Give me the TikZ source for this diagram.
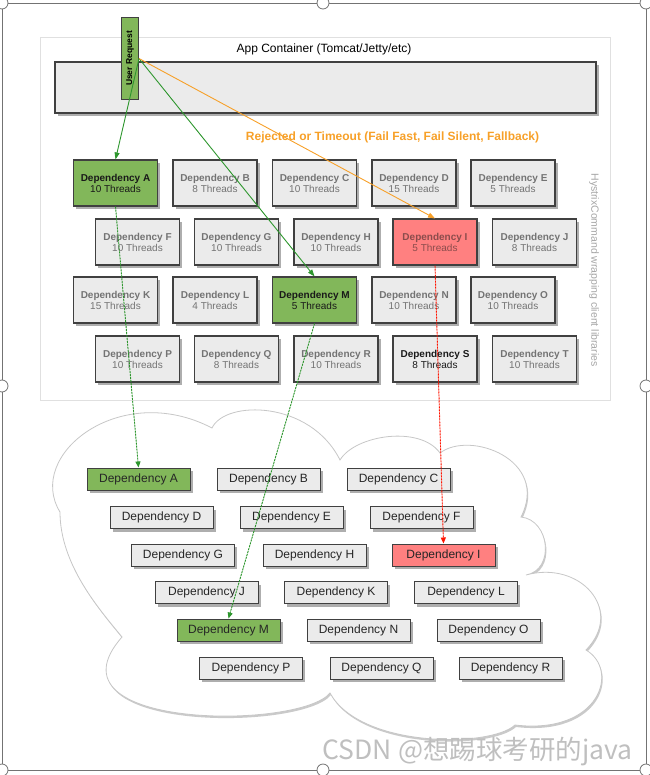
\documentclass[tikz,border=0pt]{standalone}
\usepackage{fontspec}
\setmainfont{Liberation Sans}
\newfontfamily\cjkfont{Noto Sans CJK SC}
\usetikzlibrary{shadows,arrows.meta}

\colorlet{pool fill}{black!8}
\colorlet{frame edge}{black!55}
\definecolor{ok green}{RGB}{130,183,90}
\definecolor{fail red}{RGB}{255,128,128}
\definecolor{call green}{RGB}{45,150,45}
\definecolor{reject orange}{RGB}{247,160,40}
\tikzset{
  soft shadow/.style={drop shadow={shadow xshift=2.5pt, shadow yshift=-3pt, fill=black!70, opacity=.45}},
  frame/.style={draw=frame edge, line width=.8pt},
  handle/.style={draw=frame edge, fill=white, line width=.8pt}
  }
\tikzstyle{pool} = [draw=black!75, line width=1.1pt, fill=pool fill, minimum width=84pt, minimum height=46pt, inner sep=0pt, align=center, font=\fontsize{10}{11}\selectfont, text=black!55, soft shadow]
\tikzstyle{pool ok} = [pool, fill=ok green, text=black!90]
\tikzstyle{pool failed} = [pool, fill=fail red, text=red!35!black!70]
\tikzstyle{pool loud} = [pool, text=black!90]
\tikzstyle{lib} = [draw=black!75, line width=1pt, fill=pool fill, minimum width=103pt, minimum height=22pt, inner sep=0pt, font=\fontsize{12}{12}\selectfont, text=black!85, soft shadow]
\tikzstyle{lib ok} = [lib, fill=ok green]
\tikzstyle{lib failed} = [lib, fill=fail red]
\tikzstyle{call} = [draw=call green, line width=.9pt, -{Triangle[length=7pt,width=5pt]}]
\tikzstyle{reject} = [draw=reject orange, line width=.9pt, -{Triangle[length=7pt,width=5pt]}]
\tikzstyle{wired} = [line width=.9pt, dash pattern=on 2pt off 1pt, -{Triangle[length=6pt,width=5pt]}]
\def\pools{{(115.5,183)/A/10/pool ok}, {(215,183)/B/8/pool}, {(314.5,183)/C/10/pool}, {(414,183)/D/15/pool}, {(513,183)/E/5/pool},
  {(137.5,242)/F/10/pool}, {(236.5,242)/G/10/pool}, {(336,242)/H/10/pool}, {(435,242)/I/5/pool failed}, {(534.5,242)/J/8/pool},
  {(115.5,300)/K/15/pool}, {(215,300)/L/4/pool}, {(314.5,300)/M/5/pool ok}, {(414,300)/N/10/pool}, {(513,300)/O/10/pool},
  {(137.5,359)/P/10/pool}, {(236.5,359)/Q/8/pool}, {(336,359)/R/10/pool}, {(435,359)/S/8/pool loud}, {(534.5,359)/T/10/pool}}
\def\libs{{(138.5,479)/A/lib ok}, {(268.5,479)/B/lib}, {(398.5,479)/C/lib},
  {(161.5,517.5)/D/lib}, {(291.5,517.5)/E/lib}, {(421.5,517.5)/F/lib},
  {(183,555)/G/lib}, {(314.5,555)/H/lib}, {(443.5,555)/I/lib failed},
  {(206.5,592.5)/J/lib}, {(336,592.5)/K/lib}, {(466,592.5)/L/lib},
  {(228.5,630)/M/lib ok}, {(358.5,630)/N/lib}, {(488.5,630)/O/lib},
  {(251,668)/P/lib}, {(381.5,668)/Q/lib}, {(510.5,668)/R/lib}}

\begin{document}
\begin{tikzpicture}[x=1pt, y=-1pt]
    \useasboundingbox (0,0) rectangle (649,775);

    % The selection frame round the picture
    \draw[frame] (2,3) rectangle (646,770);
    \foreach \pos in {(2,3), (323,3), (646,3), (2,386), (646,386), (2,770), (323,770), (646,770)}
      \draw[handle] \pos circle (6pt);

    % The application container
    \draw[draw=black!12, line width=1pt] (40,38) rectangle (610,400);
    \node[font=\fontsize{12}{12}\selectfont] (app) at (324,49) {App Container (Tomcat/Jetty/etc)};
    \node[draw=black!75, line width=1.1pt, fill=pool fill, minimum width=541pt, minimum height=51pt, soft shadow] (bar) at (325.5,87.5) {};
    \node[draw=black!75, line width=1pt, fill=ok green, rotate=90, minimum width=82pt, minimum height=17pt, inner sep=0pt,
      font=\bfseries\fontsize{8.5}{9}\selectfont] (ur) at (130,58.5) {User Request};
    \node[text=reject orange, font=\bfseries\fontsize{12}{12}\selectfont] (reject label) at (392.5,137) {Rejected or Timeout (Fail Fast, Fail Silent, Fallback)};
    \node[text=black!35, rotate=-90, font=\fontsize{10.5}{11}\selectfont] (hystrix) at (594,270) {HystrixCommand wrapping client libraries};

    % The thread pools
    \foreach \pos/\name/\threads/\kind in \pools
      \node[\kind] (\name) at \pos {\textbf{Dependency \name}\\\threads\ Threads};

    % The cloud of client libraries
    \path[fill=white, draw=black!22, line width=.8pt, drop shadow={shadow xshift=1pt, shadow yshift=-2pt, fill=black!60, opacity=.35}]
      (60,512) .. controls (25,455) and (120,380) .. (212,428)
      .. controls (225,400) and (310,400) .. (340,460)
      .. controls (355,435) and (420,425) .. (440,453)
      .. controls (470,430) and (550,460) .. (521,517)
      .. controls (550,520) and (555,570) .. (526,575)
      .. controls (580,560) and (625,610) .. (586,650)
      .. controls (620,670) and (600,735) .. (515,725)
      .. controls (490,748) and (360,748) .. (330,693)
      .. controls (300,730) and (40,730) .. (122,637)
      .. controls (100,610) and (60,565) .. (60,512) -- cycle;

    \foreach \pos/\name/\kind in \libs
      \node[\kind] (lib\name) at \pos {Dependency \name};

    % The calls from the request
    \path[call] (ur.south) -- (A.north);
    \path[call] (ur.south) -- (M.north);
    \path[reject] (ur.south) -- (I.north);

    % The pools wired to their libraries
    \foreach \source/\sink/\tint in {A/libA/call green, M/libM/call green, I/libI/red!85!orange}
      \draw[wired, draw=\tint, fill=\tint] (\source.south) -- (\sink.north);

    \node[text=black!25, font=\cjkfont\fontsize{26.5}{27}\selectfont, anchor=east] (mark) at (636,752) {CSDN @想踢球考研的java};

\end{tikzpicture}
\end{document}
